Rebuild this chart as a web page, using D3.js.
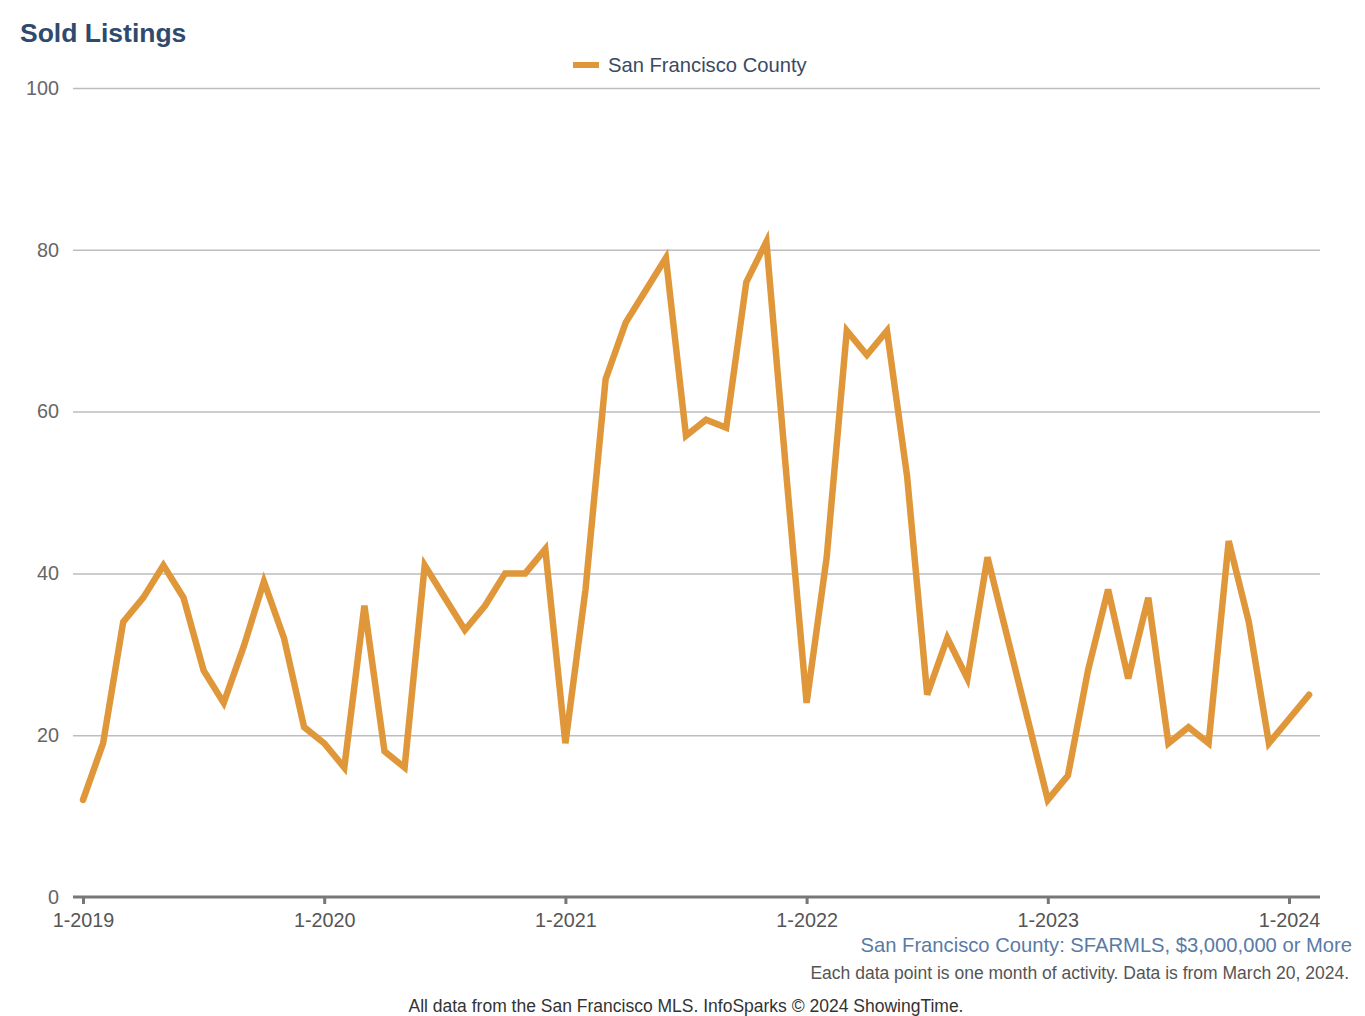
<!DOCTYPE html>
<html>
<head>
<meta charset="utf-8">
<script src="https://cdn.jsdelivr.net/npm/d3@7"></script>
<style>
  html, body { margin: 0; padding: 0; background: #fff; }
  svg { display: block; font-family: "Liberation Sans", Arial, sans-serif; }
</style>
</head>
<body>
<svg id="chart" width="1365" height="1016"></svg>
<script>
// Monthly sold listings, San Francisco County, Jan 2019 - Feb 2024
const startMonth = "1-2019";
const soldListings = [
  12, 19, 34, 37, 41, 37, 28, 24, 31, 39, 32, 21,   // 2019
  19, 16, 36, 18, 16, 41, 37, 33, 36, 40, 40, 43,   // 2020
  19, 38, 64, 71, 75, 79, 57, 59, 58, 76, 81, 52,   // 2021
  24, 42, 70, 67, 70, 52, 25, 32, 27, 42, 32, 22,   // 2022
  12, 15, 28, 38, 27, 37, 19, 21, 19, 44, 34, 19,   // 2023
  22, 25                                            // 2024
];
const xTickIndex = [0, 12, 24, 36, 48, 60];
const xTickLabels = ["1-2019", "1-2020", "1-2021", "1-2022", "1-2023", "1-2024"];
const yTicks = [0, 20, 40, 60, 80, 100];
const seriesName = "San Francisco County";

const svg = d3.select("#chart");
const lineColor = "#e0973a";

const x = d3.scaleLinear().domain([0, 60]).range([83, 1289]);
const y = d3.scaleLinear().domain([0, 100]).range([897, 88]);

// Title
svg.append("text").attr("x", 20).attr("y", 42)
  .attr("font-size", 26.5).attr("font-weight", "bold").attr("fill", "#2f4a6d")
  .text("Sold Listings");

// Legend
svg.append("line").attr("x1", 573).attr("x2", 599).attr("y1", 65).attr("y2", 65)
  .attr("stroke", lineColor).attr("stroke-width", 6);
svg.append("text").attr("x", 608).attr("y", 72)
  .attr("font-size", 20.2).attr("fill", "#3b4a61").text(seriesName);

// Gridlines and y labels
const yAxis = d3.axisLeft(y).tickValues(yTicks).tickSize(-(1320 - 73)).tickPadding(14);
const gy = svg.append("g").attr("transform", "translate(73,0)").call(yAxis);
gy.select(".domain").remove();
gy.selectAll(".tick line").attr("stroke", "#bdbdbd").attr("stroke-width", 1.5);
gy.selectAll(".tick text").attr("font-size", 19.8).attr("fill", "#666")
  .attr("font-family", "Liberation Sans, Arial, sans-serif");
gy.selectAll(".tick").filter(d => d === 0).select("line").remove();

// X axis
const xAxis = d3.axisBottom(x).tickValues(xTickIndex)
  .tickFormat((d, i) => xTickLabels[i]).tickSize(7).tickSizeOuter(0).tickPadding(9);
const gx = svg.append("g").attr("transform", "translate(0,897)").call(xAxis);
gx.select(".domain").remove();
gx.append("line").attr("x1", 73).attr("x2", 1320).attr("y1", 0).attr("y2", 0)
  .attr("stroke", "#777").attr("stroke-width", 3);
gx.selectAll(".tick line").attr("stroke", "#777").attr("stroke-width", 3);
gx.selectAll(".tick text").attr("font-size", 19.8).attr("fill", "#555")
  .attr("font-family", "Liberation Sans, Arial, sans-serif");

// Line
const line = d3.line().x((d, i) => x(i)).y(d => y(d));
svg.append("path").datum(soldListings)
  .attr("d", line).attr("fill", "none").attr("stroke", lineColor)
  .attr("stroke-width", 6.5).attr("stroke-linejoin", "miter").attr("stroke-linecap", "round");

// Footer texts
svg.append("text").attr("x", 1352).attr("y", 952).attr("text-anchor", "end")
  .attr("font-size", 20.2).attr("fill", "#5a7aa6")
  .text("San Francisco County: SFARMLS, $3,000,000 or More");
svg.append("text").attr("x", 1349).attr("y", 979).attr("text-anchor", "end")
  .attr("font-size", 17.5).attr("fill", "#555")
  .text("Each data point is one month of activity. Data is from March 20, 2024.");
svg.append("text").attr("x", 686).attr("y", 1012).attr("text-anchor", "middle")
  .attr("font-size", 17.5).attr("fill", "#333")
  .text("All data from the San Francisco MLS. InfoSparks © 2024 ShowingTime.");
</script>
</body>
</html>
